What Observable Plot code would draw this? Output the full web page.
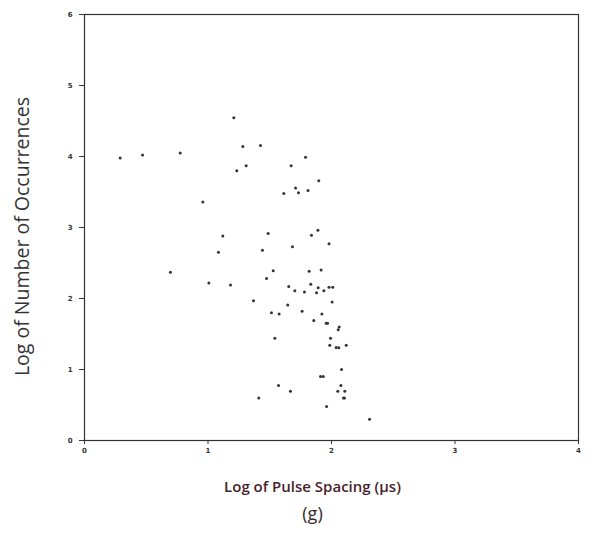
<!DOCTYPE html>
<html>
<head>
<meta charset="utf-8">
<script src="https://cdn.jsdelivr.net/npm/d3@7"></script>
<script src="https://cdn.jsdelivr.net/npm/@observablehq/plot@0.6"></script>
<style>
  body { margin: 0; background: #fff; }
  #chart svg { display: block; }
</style>
</head>
<body>
<div id="chart"></div>
<script>
const xVals = [1.209,1.282,1.425,0.289,0.47,0.775,1.79,1.309,1.233,1.673,1.897,1.709,1.733,1.614,1.81,0.958,1.12,1.487,1.838,1.89,1.98,1.085,1.441,1.684,0.696,1.528,1.819,1.916,1.474,1.007,1.182,1.368,1.514,1.576,1.654,1.703,1.781,1.832,1.892,1.879,1.938,1.98,2.01,2.005,1.646,1.762,1.922,1.857,1.957,1.968,2.062,2.054,1.541,1.992,1.986,2.038,2.059,2.119,2.081,1.911,1.933,2.076,1.571,1.668,2.051,2.108,1.411,2.097,2.105,1.96,2.308];
const yVals = [4.545,4.14,4.155,3.98,4.02,4.05,3.99,3.87,3.80,3.87,3.66,3.555,3.49,3.48,3.52,3.36,2.88,2.915,2.89,2.96,2.77,2.65,2.68,2.73,2.37,2.39,2.385,2.40,2.28,2.22,2.19,1.97,1.80,1.78,2.17,2.11,2.09,2.20,2.15,2.08,2.11,2.16,2.16,1.95,1.91,1.82,1.78,1.69,1.65,1.65,1.60,1.56,1.44,1.44,1.34,1.31,1.305,1.34,1.00,0.90,0.90,0.775,0.775,0.695,0.695,0.695,0.60,0.60,0.60,0.48,0.30];
const xTicks = [0,1,2,3,4];
const yTicks = [0,1,2,3,4,5,6];
const xLabel = "Log of Pulse Spacing (\u03bcs)";
const yLabel = "Log of Number of Occurrences";
const panelLabel = "(g)";

const data = xVals.map((x, i) => ({x, y: yVals[i]}));

const chart = Plot.plot({
  width: 591,
  height: 534,
  marginLeft: 84,
  marginRight: 13,
  marginTop: 14,
  marginBottom: 94,
  style: {fontFamily: "DejaVu Sans, sans-serif", background: "#fff"},
  x: {domain: [0, 4], ticks: xTicks, label: null},
  y: {domain: [0, 6], ticks: yTicks, label: null},
  marks: [
    Plot.frame({stroke: "#333", strokeWidth: 1.2}),
    Plot.axisX({ticks: xTicks, tickSize: 4, tickPadding: 4, fontSize: 7, fontWeight: "bold", stroke: "#333", fill: "#333", label: null, tickFormat: d => d}),
    Plot.axisY({ticks: yTicks, tickSize: 5, tickPadding: 7, fontSize: 7, fontWeight: "bold", stroke: "#333", fill: "#333", label: null, tickFormat: d => d}),
    Plot.dot(data, {x: "x", y: "y", r: 1.5, fill: "#333", stroke: "none"}),
    Plot.text([xLabel], {frameAnchor: "bottom", dx: -19, dy: 51, fontSize: 15, fill: "#4a1f2a", fontWeight: 600, fontFamily: "Open Sans, sans-serif"}),
    Plot.text([panelLabel], {frameAnchor: "bottom", dx: -19, dy: 79, fontSize: 18, fill: "#3a2a2a", fontFamily: "Open Sans, sans-serif"}),
    Plot.text([yLabel], {frameAnchor: "left", dx: -62, dy: 9, rotate: -90, textAnchor: "middle", fontSize: 19.5, fill: "#333", fontFamily: "Open Sans, sans-serif"})
  ]
});
document.getElementById("chart").append(chart);
</script>
</body>
</html>
